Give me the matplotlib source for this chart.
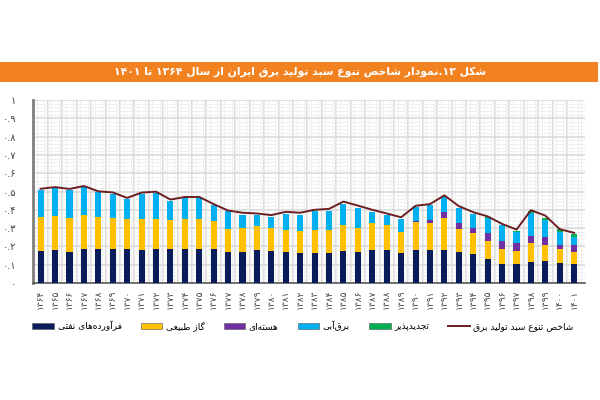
import re
import numpy as np
import matplotlib
matplotlib.use("Agg")
import matplotlib.pyplot as plt
from matplotlib.patches import Rectangle, Patch
from matplotlib.lines import Line2D
from matplotlib.ticker import MultipleLocator

years = list(range(1364, 1402))
oil = [0.173, 0.178, 0.169, 0.184, 0.184, 0.184, 0.184, 0.180, 0.184, 0.184,
       0.184, 0.184, 0.184, 0.168, 0.171, 0.178, 0.177, 0.169, 0.162,
       0.166, 0.164, 0.173, 0.168, 0.182, 0.178, 0.166, 0.182, 0.178, 0.182,
       0.169, 0.160, 0.133, 0.106, 0.105, 0.115, 0.121, 0.110, 0.106]
gas = [0.187, 0.188, 0.184, 0.185, 0.175, 0.173, 0.166, 0.168, 0.167, 0.160,
       0.167, 0.167, 0.155, 0.127, 0.130, 0.136, 0.126, 0.123, 0.121,
       0.126, 0.124, 0.144, 0.133, 0.146, 0.137, 0.115, 0.153, 0.152, 0.171,
       0.128, 0.114, 0.094, 0.081, 0.070, 0.103, 0.088, 0.077, 0.065]
nuclear = [0, 0, 0, 0, 0, 0, 0, 0, 0, 0,
           0, 0, 0, 0, 0, 0, 0, 0, 0,
           0, 0, 0, 0, 0, 0, 0, 0.005, 0.014, 0.034,
           0.031, 0.027, 0.045, 0.042, 0.043, 0.040, 0.041, 0.022, 0.038]
hydro = [0.146, 0.151, 0.153, 0.154, 0.136, 0.131, 0.111, 0.140, 0.141, 0.106,
         0.117, 0.117, 0.086, 0.098, 0.072, 0.055, 0.057, 0.086, 0.089,
         0.099, 0.107, 0.115, 0.110, 0.061, 0.056, 0.070, 0.076, 0.081, 0.083,
         0.081, 0.076, 0.083, 0.086, 0.058, 0.126, 0.096, 0.072, 0.045]
renew = [0, 0, 0, 0, 0, 0, 0, 0, 0, 0,
         0, 0, 0, 0, 0, 0, 0, 0, 0,
         0, 0, 0, 0, 0, 0, 0, 0, 0, 0.003,
         0.002, 0.002, 0.003, 0.004, 0.007, 0.011, 0.011, 0.013, 0.013]
index = [0.515, 0.524, 0.514, 0.530, 0.501, 0.495, 0.465, 0.494, 0.499, 0.456,
         0.470, 0.470, 0.431, 0.396, 0.384, 0.380, 0.371, 0.389, 0.384,
         0.400, 0.405, 0.445, 0.423, 0.400, 0.380, 0.359, 0.422, 0.431, 0.479,
         0.420, 0.387, 0.364, 0.323, 0.292, 0.398, 0.368, 0.294, 0.274]

title = "شکل ۱۳.نمودار شاخص تنوع سبد تولید برق ایران از سال ۱۳۶۴ تا ۱۴۰۱"
names = ["فرآورده‌های نفتی", "گاز طبیعی", "هسته‌ای", "برق‌آبی", "تجدیدپذیر",
         "شاخص تنوع سبد تولید برق"]
colors = ["#0B1C5A", "#FFC000", "#7030A0", "#00B0F0", "#00B050"]

# simple persian shaping (presentation forms) + visual order
FORMS = {
    'ا': (0xFE8D, 0xFE8E), 'آ': (0xFE81, 0xFE82), 'د': (0xFEA9, 0xFEAA),
    'ذ': (0xFEAB, 0xFEAC), 'ر': (0xFEAD, 0xFEAE), 'ز': (0xFEAF, 0xFEB0),
    'ژ': (0xFB8A, 0xFB8B), 'و': (0xFEED, 0xFEEE),
    'ب': (0xFE8F, 0xFE90, 0xFE91, 0xFE92), 'پ': (0xFB56, 0xFB57, 0xFB58, 0xFB59),
    'ت': (0xFE95, 0xFE96, 0xFE97, 0xFE98), 'ج': (0xFE9D, 0xFE9E, 0xFE9F, 0xFEA0),
    'خ': (0xFEA5, 0xFEA6, 0xFEA7, 0xFEA8), 'س': (0xFEB1, 0xFEB2, 0xFEB3, 0xFEB4),
    'ش': (0xFEB5, 0xFEB6, 0xFEB7, 0xFEB8), 'ص': (0xFEB9, 0xFEBA, 0xFEBB, 0xFEBC),
    'ط': (0xFEC1, 0xFEC2, 0xFEC3, 0xFEC4), 'ع': (0xFEC9, 0xFECA, 0xFECB, 0xFECC),
    'ف': (0xFED1, 0xFED2, 0xFED3, 0xFED4), 'ق': (0xFED5, 0xFED6, 0xFED7, 0xFED8),
    'ک': (0xFB8E, 0xFB8F, 0xFB90, 0xFB91), 'گ': (0xFB92, 0xFB93, 0xFB94, 0xFB95),
    'ل': (0xFEDD, 0xFEDE, 0xFEDF, 0xFEE0), 'م': (0xFEE1, 0xFEE2, 0xFEE3, 0xFEE4),
    'ن': (0xFEE5, 0xFEE6, 0xFEE7, 0xFEE8), 'ه': (0xFEE9, 0xFEEA, 0xFEEB, 0xFEEC),
    'ی': (0xFBFC, 0xFBFD, 0xFBFE, 0xFBFF),
}


def fa(s):
    out = []
    for i, c in enumerate(s):
        if c not in FORMS:
            if c != '\u200c':
                out.append(c)
            continue
        f = FORMS[c]
        prev = s[i - 1] if i > 0 else ''
        nxt = s[i + 1] if i + 1 < len(s) else ''
        jp = prev in FORMS and len(FORMS[prev]) == 4
        jn = len(f) == 4 and nxt in FORMS
        if jp and jn:
            out.append(chr(f[3]))
        elif jp:
            out.append(chr(f[1]))
        elif jn:
            out.append(chr(f[2]))
        else:
            out.append(chr(f[0]))
    tokens = re.findall(r'[\u06F0-\u06F9]+|.', ''.join(out))
    return ''.join(reversed(tokens))


def pdig(x):
    return str(x).translate(str.maketrans('0123456789', '۰۱۲۳۴۵۶۷۸۹'))


fig = plt.figure(figsize=(6, 4), dpi=100)
fig.patches.append(Rectangle((0, 0.795), 0.997, 0.05, transform=fig.transFigure,
                             facecolor="#F2821F", edgecolor="none"))
fig.text(0.5, 0.82, fa(title), color="white", fontsize=7.8, fontweight="bold",
         ha="center", va="center")

ax = fig.add_axes([0.055, 0.2925, 0.92, 0.4575])
x = np.arange(len(years))
w = 0.42
bottom = np.zeros(len(years))
for vals, c in zip([oil, gas, nuclear, hydro, renew], colors):
    ax.bar(x, vals, w, bottom=bottom, color=c, zorder=3)
    bottom += np.array(vals)
ax.plot(x, index, color="#6B1F22", lw=1.4, zorder=4)

ax.set_xlim(-0.53, len(years) - 0.5)
ax.set_ylim(0, 1)
ax.yaxis.set_major_locator(MultipleLocator(0.1))
ax.yaxis.set_minor_locator(MultipleLocator(0.02))
ax.set_xticks(x)
ax.set_xticks(np.arange(-0.5, len(years), 0.25), minor=True)
ax.grid(which="minor", color="#EEEEEE", lw=0.6, zorder=0)
ax.grid(axis="y", which="major", color="#DADADA", lw=1.2, zorder=1)
for b in np.arange(0.5, len(years) - 1, 1):
    ax.axvline(b, color="#DADADA", lw=1.5, zorder=1)

ax.set_xticklabels([pdig(y) for y in years], rotation=90, fontsize=6.5, color="#444444")
ylabels = ['۰'] + ['۰.' + pdig(i) for i in range(1, 10)] + ['۱']
ax.set_yticks(np.arange(0, 1.01, 0.1))
ax.set_yticklabels(ylabels, fontsize=7, color="#444444")
ax.tick_params(which="both", length=0)
ax.tick_params(axis="y", pad=12)
ax.tick_params(axis="x", pad=5)
for s in ["top", "right"]:
    ax.spines[s].set_visible(False)
ax.spines["left"].set_color("#7F7F7F")
ax.spines["left"].set_linewidth(2)
ax.spines["bottom"].set_color("#595959")
ax.spines["bottom"].set_linewidth(1.2)

handles = [Patch(facecolor=c, edgecolor="#555555", lw=0.4) for c in colors]
handles.append(Line2D([0], [0], color="#6B1F22", lw=1.4))
fig.legend(handles, [fa(n) for n in names], ncol=6, loc="center",
           bbox_to_anchor=(0.505, 0.185), frameon=False, fontsize=6.5,
           handlelength=2.4, handleheight=0.6, columnspacing=2.1, handletextpad=0.4)

fig.savefig("out.png", dpi=100)
